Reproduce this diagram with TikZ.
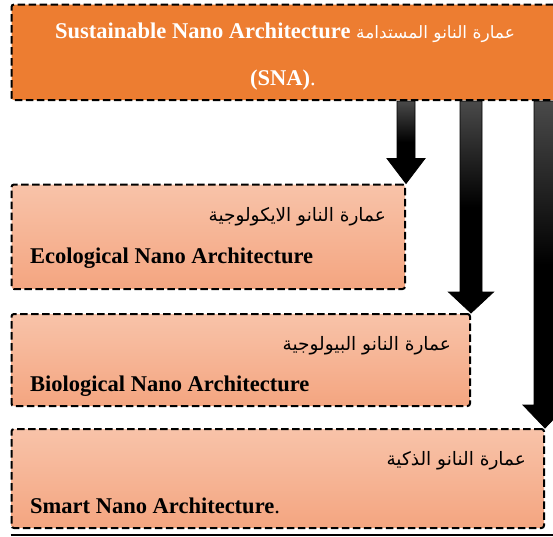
\documentclass[tikz,border=0pt]{standalone}
\usepackage{fontspec}
\setmainfont{Liberation Serif}
\newfontfamily\arabicfont[Script=Arabic]{DejaVu Sans}
\TeXXeTstate=1
\usetikzlibrary{calc}
\definecolor{topor}{HTML}{ED7D31}
\definecolor{boxtop}{HTML}{F8C3A9}
\definecolor{boxbot}{HTML}{F4A580}
\definecolor{shafttop}{HTML}{4A4A4A}
\pgfdeclarelayer{bg}
\pgfsetlayers{bg,main}
\tikzset{
  dashbox/.style={draw=black, line width=2pt, dash pattern=on 7.5pt off 3.5pt, rounded corners=2.5pt, anchor=north west, inner sep=0pt},
  subbox/.style={dashbox, top color=boxtop, bottom color=boxbot},
  entext/.style={font=\fontsize{22.5}{27}\selectfont\bfseries, anchor=west, inner sep=0pt},
  artext/.style={font=\fontsize{18.5}{22}\selectfont\arabicfont, anchor=east, inner sep=0pt},
  blockarr/.style={draw=black, line width=0.8pt, top color=shafttop, bottom color=black, middle color=black},
}
\newcommand\blockarrow[5]{%
  \path[blockarr] let \p1=(#1.south), \p2=(#2.north east) in
    (\x2-#3,\y1) -- (\x2+#3,\y1) -- (\x2+#3,\y2+#5) -- (\x2+#4,\y2+#5) -- (\x2,\y2)
    -- (\x2-#4,\y2+#5) -- (\x2-#3,\y2+#5) -- cycle;}
\begin{document}
\begin{tikzpicture}[x=1pt,y=-1pt]
\useasboundingbox (0,0) rectangle (553,536);
% boxes
\node[dashbox, fill=topor, minimum width=555pt, minimum height=95.5pt] (top) at (10.5,3.5) {};
\node[subbox, minimum width=393.5pt, minimum height=104.5pt] (eco) at (10.5,183.5) {};
\node[subbox, minimum width=458.5pt, minimum height=92pt] (bio) at (10.5,313) {};
\node[subbox, minimum width=532.5pt, minimum height=99pt] (smart) at (10.5,428) {};
% arrows
\begin{pgfonlayer}{bg}
\blockarrow{top}{eco}{9pt}{19pt}{25pt}
\blockarrow{top}{bio}{11pt}{22.5pt}{21pt}
\blockarrow{top}{smart}{11pt}{22pt}{23pt}
\end{pgfonlayer}
% texts
\node[entext, text=white, anchor=center] (t1) at (285,33) {Sustainable Nano Architecture {\mdseries\arabicfont\fontsize{17}{20}\selectfont\beginR عمارة النانو المستدامة\endR}};
\node[entext, text=white, anchor=center] (t2) at (283,80) {(SNA)\textmd{.}};
\node[artext] (a1) at (386,217) {\beginR عمارة النانو الايكولوجية\endR};
\node[entext] (e1) at (30,258) {Ecological Nano Architecture};
\node[artext] (a2) at (451,346) {\beginR عمارة النانو البيولوجية\endR};
\node[entext] (e2) at (30,386) {Biological Nano Architecture};
\node[artext] (a3) at (526,461) {\beginR عمارة النانو الذكية\endR};
\node[entext] (e3) at (30,506) {Smart Nano Architecture\textmd{.}};
% bottom rule
\coordinate (rl) at (10.5,535);
\coordinate (rr) at (553,535);
\draw[line width=2.5pt] (rl) -- (rr);
\end{tikzpicture}
\end{document}
